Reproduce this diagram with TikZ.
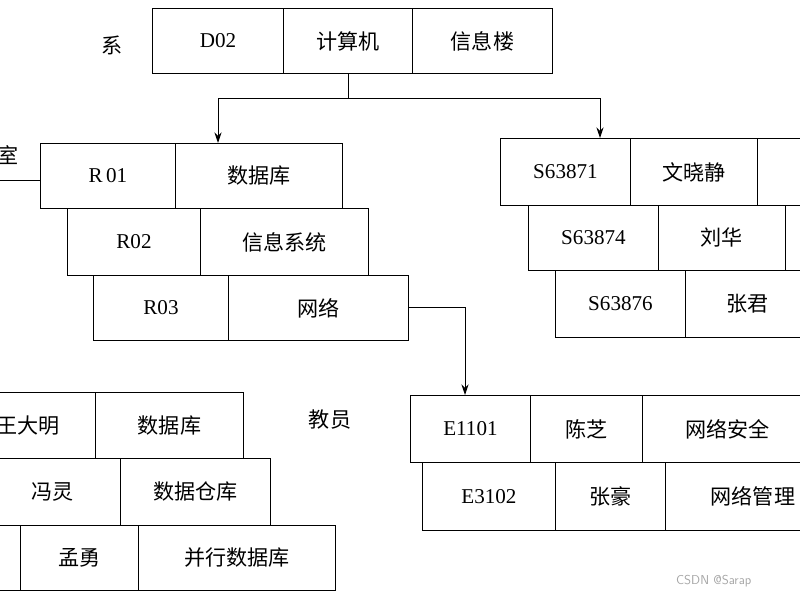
\documentclass[tikz,border=0pt]{standalone}
\usepackage{fontspec}
\setmainfont{Liberation Serif}
\newfontfamily\cjk{Noto Sans CJK SC}
\usetikzlibrary{arrows.meta}
\tikzset{
  cell/.style={draw,thick,anchor=north west,inner sep=0pt,font=\fontsize{18}{20}\selectfont},
  link/.style={thick,-{Stealth[length=9pt,width=6pt]}},
  lab/.style={font=\fontsize{18}{20}\selectfont\cjk}
}
% \cell{name}{x1}{x2}{y1}{y2}{text}
\newcommand{\cell}[6]{\node (#1) [cell,minimum width={(#3-#2)*0.03cm},minimum height={(#5-#4)*0.03cm}] at (#2,#4) {#6};}
\begin{document}
\begin{tikzpicture}[x=0.03cm,y=-0.03cm]
  \useasboundingbox (0,0) rectangle (800,600);
  \clip (0,0) rectangle (800,600);
  \node (xi) [lab] at (112,45) {系};
  \cell{d02}{152}{283}{8}{73}{D02}
  \cell{jsj}{283}{412}{8}{73}{\cjk 计算机}
  \cell{xxl}{412}{552}{8}{73}{\cjk 信息楼}

  \node (shi) [lab] at (8,155) {室};
  \cell{r01}{40}{175}{143}{208}{R\,01}
  \cell{r01b}{175}{342}{143}{208}{\cjk 数据库}
  \cell{r02}{67}{200}{208}{275}{R02}
  \cell{r02b}{200}{368}{208}{275}{\cjk 信息系统}
  \cell{r03}{93}{228}{275}{340}{R03}
  \cell{r03b}{228}{408}{275}{340}{\cjk 网络}

  \cell{s1}{500}{630}{138}{205}{S63871}
  \cell{s1b}{630}{757}{138}{205}{\cjk 文晓静}
  \cell{s1c}{757}{860}{138}{205}{}
  \cell{s2}{528}{658}{205}{270}{S63874}
  \cell{s2b}{658}{785}{205}{270}{\cjk 刘华}
  \cell{s2c}{785}{880}{205}{270}{}
  \cell{s3}{555}{685}{270}{337}{S63876}
  \cell{s3b}{685}{810}{270}{337}{\cjk 张君}

  \node (jy) [lab] at (330,420) {教员};
  \cell{e1}{410}{530}{395}{462}{E1101}
  \cell{e1b}{530}{642}{395}{462}{\cjk 陈芝}
  \cell{e1c}{642}{812}{395}{462}{\cjk 网络安全}
  \cell{e2}{422}{555}{462}{530}{E3102}
  \cell{e2b}{555}{665}{462}{530}{\cjk 张豪}
  \cell{e2c}{665}{840}{462}{530}{\cjk 网络管理}

  \cell{t1}{-40}{95}{392}{458}{\cjk 王大明}
  \cell{t1b}{95}{243}{392}{458}{\cjk 数据库}
  \cell{t2}{-15}{120}{458}{525}{\cjk 冯灵}
  \cell{t2b}{120}{270}{458}{525}{\cjk 数据仓库}
  \cell{t3}{-10}{20}{525}{590}{}
  \cell{t3a}{20}{138}{525}{590}{\cjk 孟勇}
  \cell{t3b}{138}{335}{525}{590}{\cjk 并行数据库}

  \coordinate (fork) at (350,98);
  \coordinate (shiend) at (0,180);
  \draw[thick] (jsj.south) |- (fork);
  \draw[link] (fork) -| (218,143);
  \draw[link] (fork) -| (600,138);
  \draw[thick] (shiend) -- (shiend -| r01.west);
  \draw[link] (r03b.east) -| (465,395);

  \node (mark) [text=gray!70,font=\fontsize{11}{12}\selectfont\sffamily,anchor=west] at (672,581) {CSDN @Sarap};
\end{tikzpicture}
\end{document}
